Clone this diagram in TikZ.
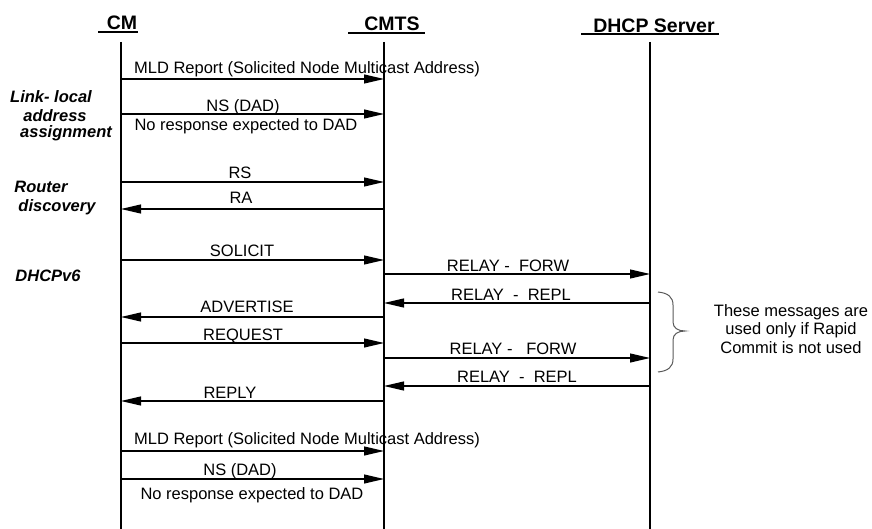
\documentclass[tikz,border=0pt]{standalone}
\usepackage{fontspec}
\setmainfont{Liberation Sans}
\usetikzlibrary{arrows.meta}
\begin{document}
\begin{tikzpicture}[x=1pt,y=-1pt,
  lifeline/.style={line width=1.1pt},
  msg/.style={line width=1.1pt,-{Triangle[length=20pt,width=9pt]}},
  lbl/.style={font=\fontsize{16.5}{18}\selectfont, inner sep=0pt, anchor=base},
  grp/.style={font=\fontsize{16.5}{18}\selectfont\bfseries\itshape, inner sep=0pt, anchor=base},
  hdr/.style={font=\fontsize{19.5}{22}\selectfont\bfseries, inner sep=0pt, anchor=base},
  uline/.style={line width=1.3pt},
  bracestyle/.style={line width=1pt, draw=black!65}]
\useasboundingbox (0,0) rectangle (872,529);

% headers
\node[hdr] (cm) at (122,30) {CM};
\node[hdr] (cmts) at (392,31) {CMTS};
\node[hdr] (dhcp) at (654,33) {DHCP Server};
\draw[uline] (98,32) -- (138,32);
\draw[uline] (348,33) -- (425,33);
\draw[uline] (581,34) -- (719,34);

% lifelines
\coordinate (cmT) at (121,42);
\coordinate (cmB) at (121,529);
\coordinate (cmtsT) at (384,42);
\coordinate (cmtsB) at (384,529);
\coordinate (dhT) at (650,42);
\coordinate (dhB) at (650,529);
\draw[lifeline] (cmT) -- (cmB);
\draw[lifeline] (cmtsT) -- (cmtsB);
\draw[lifeline] (dhT) -- (dhB);

% group labels
\node[grp] (g1a) at (51,103) {Link- local};
\node[grp] (g1b) at (55,122) {address};
\node[grp] (g1c) at (66,138) {assignment};
\node[grp] (g2a) at (41,193) {Router};
\node[grp] (g2b) at (57,212) {discovery};
\node[grp] (g3) at (48,281) {DHCPv6};

% messages
\draw[msg] (cmT |- 0,79) -- (cmtsT |- 0,79);
\node[lbl] (l1) at (307,74) {MLD Report (Solicited Node Multicast Address)};
\draw[msg] (cmT |- 0,114) -- (cmtsT |- 0,114);
\node[lbl] (l2) at (243,112) {NS (DAD)};
\node[lbl] (l2b) at (246,131) {No response expected to DAD};

\draw[msg] (cmT |- 0,182) -- (cmtsT |- 0,182);
\node[lbl] (l3) at (240,179) {RS};
\draw[msg] (cmtsT |- 0,209) -- (cmT |- 0,209);
\node[lbl] (l4) at (241,204) {RA};

\draw[msg] (cmT |- 0,260) -- (cmtsT |- 0,260);
\node[lbl] (l5) at (242,257) {SOLICIT};
\draw[msg] (cmtsT |- 0,274) -- (dhT |- 0,274);
\node[lbl] (l6) at (508,271) {RELAY -\ \ FORW};
\draw[msg] (dhT |- 0,303) -- (cmtsT |- 0,303);
\node[lbl] (l7) at (511,300) {RELAY \ -\ \ REPL};
\draw[msg] (cmtsT |- 0,317) -- (cmT |- 0,317);
\node[lbl] (l8) at (247,312) {ADVERTISE};
\draw[msg] (cmT |- 0,343) -- (cmtsT |- 0,343);
\node[lbl] (l9) at (243,340) {REQUEST};
\draw[msg] (cmtsT |- 0,358) -- (dhT |- 0,358);
\node[lbl] (l10) at (513,354) {RELAY -\ \ \ FORW};
\draw[msg] (dhT |- 0,386) -- (cmtsT |- 0,386);
\node[lbl] (l11) at (517,382) {RELAY \ -\ \ REPL};
\draw[msg] (cmtsT |- 0,401) -- (cmT |- 0,401);
\node[lbl] (l12) at (230,398) {REPLY};

\draw[msg] (cmT |- 0,451) -- (cmtsT |- 0,451);
\node[lbl] (l13) at (307,444) {MLD Report (Solicited Node Multicast Address)};
\draw[msg] (cmT |- 0,479) -- (cmtsT |- 0,479);
\node[lbl] (l14) at (240,475) {NS (DAD)};
\node[lbl] (l14b) at (252,499) {No response expected to DAD};

% brace and note
\draw[bracestyle] (658,292) .. controls (668,293) and (673,297) .. (673,305)
  -- (673,322) .. controls (673,328) and (678,331) .. (685,331)
  .. controls (678,331) and (673,334) .. (673,340)
  -- (673,359) .. controls (673,367) and (668,371) .. (658,372);
\node[font=\fontsize{16.5}{18.5}\selectfont, align=center, inner sep=0pt] (note) at (791,329)
  {These messages are\\used only if Rapid\\Commit is not used};
\end{tikzpicture}
\end{document}
